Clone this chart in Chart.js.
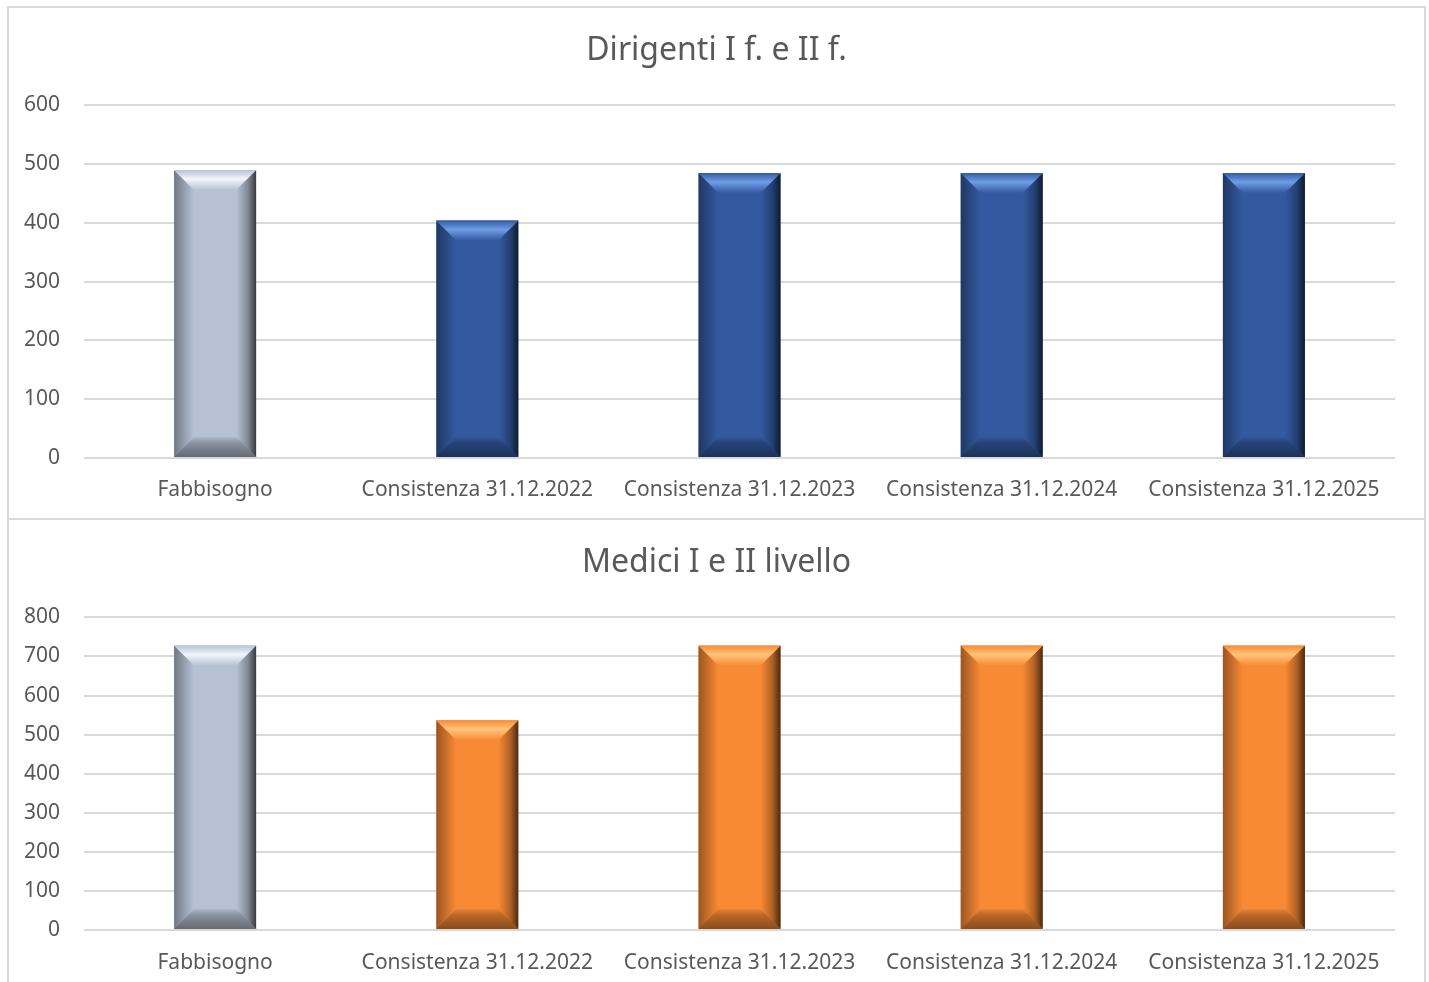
<!DOCTYPE html>
<html>
<head>
<meta charset="utf-8">
<script src="https://cdn.jsdelivr.net/npm/chart.js@4.4.1/dist/chart.umd.min.js"></script>
<style>
  body { margin: 0; background: #fff; font-family: "Noto Sans", sans-serif; }
  #frame { position: absolute; left: 7px; top: 6px; width: 1415px; height: 990px;
           border: 2px solid #d9d9d9; border-bottom: none; }
  .box { position: absolute; left: 0; width: 1415px; }
  #box1 { top: 0; height: 510px; border-bottom: 2px solid #d9d9d9; }
  #box2 { top: 512px; height: 464px; }
</style>
</head>
<body>
<div id="frame">
  <div class="box" id="box1"><canvas id="chart1"></canvas></div>
  <div class="box" id="box2"><canvas id="chart2"></canvas></div>
</div>
<script>
// categories and values
const categories = ['Fabbisogno', 'Consistenza 31.12.2022', 'Consistenza 31.12.2023', 'Consistenza 31.12.2024', 'Consistenza 31.12.2025'];
const dirigenti = [490, 404, 485, 485, 485];
const medici = [728, 537, 728, 728, 728];
const dirigentiTicks = [0, 100, 200, 300, 400, 500, 600];
const mediciTicks = [0, 100, 200, 300, 400, 500, 600, 700, 800];

const grey = '#b6c2d4';
const textColor = '#595959';
const gridColor = '#d9d9d9';

// center the title on the whole canvas, not on the padded area
const titleCenter = {
    id: 'titleCenter',
    afterLayout(chart) {
        if (chart.titleBlock) {
            chart.titleBlock.left = 0;
            chart.titleBlock.right = chart.width;
        }
    }
};

// bevel look of the excel bars
const bevelPlugin = {
    id: 'bevel',
    afterDatasetsDraw(chart) {
        const ctx = chart.ctx;
        const meta = chart.getDatasetMeta(0);
        const lights = chart.options.plugins.bevel.lights;
        meta.data.forEach(function (bar, i) {
            const l = bar.x - bar.width / 2, r = bar.x + bar.width / 2;
            const t = bar.y, bot = bar.base;
            const b = 20;
            ctx.save();
            // left side
            let g = ctx.createLinearGradient(l, 0, l + b, 0);
            g.addColorStop(0, 'rgba(0,0,0,0.38)');
            g.addColorStop(1, 'rgba(0,0,0,0)');
            ctx.fillStyle = g;
            ctx.beginPath();
            ctx.moveTo(l, t); ctx.lineTo(l + b, t + b); ctx.lineTo(l + b, bot - b); ctx.lineTo(l, bot);
            ctx.closePath(); ctx.fill();
            // right side
            g = ctx.createLinearGradient(r - b, 0, r, 0);
            g.addColorStop(0, 'rgba(0,0,0,0)');
            g.addColorStop(0.6, 'rgba(0,0,0,0.3)');
            g.addColorStop(1, 'rgba(0,0,0,0.7)');
            ctx.fillStyle = g;
            ctx.beginPath();
            ctx.moveTo(r, t); ctx.lineTo(r - b, t + b); ctx.lineTo(r - b, bot - b); ctx.lineTo(r, bot);
            ctx.closePath(); ctx.fill();
            // top
            g = ctx.createLinearGradient(0, t, 0, t + b);
            g.addColorStop(0, bar.options.backgroundColor);
            g.addColorStop(0.45, lights[i]);
            g.addColorStop(1, bar.options.backgroundColor);
            ctx.fillStyle = g;
            ctx.beginPath();
            ctx.moveTo(l, t); ctx.lineTo(r, t); ctx.lineTo(r - b, t + b); ctx.lineTo(l + b, t + b);
            ctx.closePath(); ctx.fill();
            // bottom
            g = ctx.createLinearGradient(0, bot - b, 0, bot);
            g.addColorStop(0, 'rgba(0,0,0,0.05)');
            g.addColorStop(0.3, 'rgba(0,0,0,0.25)');
            g.addColorStop(1, 'rgba(0,0,0,0.45)');
            ctx.fillStyle = g;
            ctx.beginPath();
            ctx.moveTo(l, bot); ctx.lineTo(r, bot); ctx.lineTo(r - b, bot - b); ctx.lineTo(l + b, bot - b);
            ctx.closePath(); ctx.fill();
            ctx.restore();
        });
    }
};

function makeChart(id, title, values, ticks, mainColor, lightColor, xHeight, labelPad) {
    const colors = values.map((v, i) => i === 0 ? grey : mainColor);
    const lights = values.map((v, i) => i === 0 ? '#f3f6fb' : lightColor);
    return new Chart(document.getElementById(id), {
        type: 'bar',
        data: {
            labels: categories,
            datasets: [{
                data: values,
                backgroundColor: colors,
                borderWidth: 0,
                barPercentage: 0.313,
                categoryPercentage: 1
            }]
        },
        plugins: [bevelPlugin, titleCenter],
        options: {
            responsive: true,
            maintainAspectRatio: false,
            animation: false,
            layout: { padding: { left: 0, right: 29, top: 0, bottom: 0 } },
            plugins: {
                legend: { display: false },
                tooltip: { enabled: false },
                bevel: { lights: lights },
                title: {
                    display: true,
                    text: title,
                    color: textColor,
                    font: { family: 'Noto Sans', size: 32, weight: 'normal' },
                    padding: { top: 24, bottom: 35 }
                }
            },
            scales: {
                y: {
                    min: 0,
                    max: ticks[ticks.length - 1],
                    afterFit: s => { s.width = 75; },
                    afterBuildTicks: s => { s.ticks = ticks.map(v => ({ value: v })); },
                    grid: { color: gridColor, lineWidth: 2, drawTicks: false },
                    border: { display: false },
                    ticks: { color: textColor, padding: 24, font: { family: 'Noto Sans', size: 21 } }
                },
                x: {
                    afterFit: s => { s.height = xHeight; },
                    grid: { display: false },
                    border: { display: false },
                    ticks: { color: textColor, padding: labelPad, maxRotation: 0, font: { family: 'Noto Sans', size: 21 } }
                }
            }
        }
    });
}

makeChart('chart1', 'Dirigenti I f. e II f.', dirigenti, dirigentiTicks, '#335aa1', '#6e9de6', 60, 11);
makeChart('chart2', 'Medici I e II livello', medici, mediciTicks, '#f98a35', '#ffc57a', 54, 12);
</script>
</body>
</html>
